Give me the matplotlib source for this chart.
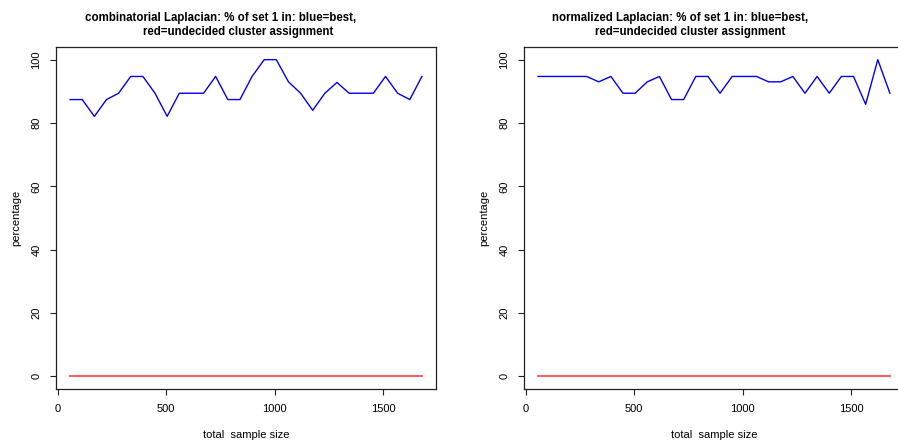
import matplotlib
matplotlib.use('Agg')
import matplotlib.pyplot as plt
import numpy as np

plt.rcParams['font.family'] = ['Liberation Sans', 'DejaVu Sans']

# sample sizes 56, 112, ..., 1680
sample_size = np.arange(56, 1681, 56)

# percentage of set 1 in the best cluster
comb_best = [87.4, 87.4, 82.1, 87.4, 89.4, 94.7, 94.7, 89.4, 82.1, 89.4,
             89.4, 89.4, 94.7, 87.4, 87.4, 94.7, 100.0, 100.0, 93.0, 89.4,
             84.0, 89.4, 92.8, 89.4, 89.4, 89.4, 94.7, 89.4, 87.4, 94.7]
norm_best = [94.7, 94.7, 94.7, 94.7, 94.7, 93.0, 94.7, 89.4, 89.4, 93.0,
             94.7, 87.4, 87.4, 94.7, 94.7, 89.4, 94.7, 94.7, 94.7, 93.0,
             93.0, 94.7, 89.4, 94.7, 89.4, 94.7, 94.7, 85.9, 100.0, 89.4]
# percentage with undecided assignment
comb_undecided = [0] * 30
norm_undecided = [0] * 30

W, H = 898, 446
fig = plt.figure(figsize=(W / 100, H / 100), dpi=100)
fig.patch.set_facecolor('white')


def px(x0, y0, x1, y1):
    return [x0 / W, 1 - y1 / H, (x1 - x0) / W, (y1 - y0) / H]


ax1 = fig.add_axes(px(56, 47, 436, 389))
ax2 = fig.add_axes(px(524, 47, 904, 389))

panels = [
    (ax1, comb_best, comb_undecided, 'combinatorial Laplacian: % of set 1 in: blue=best,', (221, 238)),
    (ax2, norm_best, norm_undecided, 'normalized Laplacian: % of set 1 in: blue=best,', (680, 690)),
]

for ax, best, undec, line1, (c1, c2) in panels:
    ax.plot(sample_size, best, color='#0000ff', lw=1.0)
    ax.plot(sample_size, undec, color='#ff4d4d', lw=1.3)
    ax.set_xlim(-9, 1745)
    ax.set_ylim(-4, 104)
    ax.set_xticks([0, 500, 1000, 1500])
    ax.set_yticks([0, 20, 40, 60, 80, 100])
    ax.set_yticklabels(['0', '20', '40', '60', '80', '100'], rotation=90, va='center')
    ax.tick_params(direction='out', length=4.5, width=0.8, labelsize=8, pad=6, color='#222222')
    for s in ax.spines.values():
        s.set_linewidth(0.9)
        s.set_color('#222222')
    ax.text(0.5, -0.135, 'total  sample size', transform=ax.transAxes,
            ha='center', va='center', fontsize=8)
    ax.text(-0.105, 0.5, 'percentage', transform=ax.transAxes, rotation=90,
            ha='center', va='center', fontsize=8)
    fig.text(c1 / W, 1 - 18.5 / H, line1, ha='center', va='center',
             fontsize=8.3, fontweight='bold')
    fig.text(c2 / W, 1 - 32.5 / H, 'red=undecided cluster assignment', ha='center',
             va='center', fontsize=8.3, fontweight='bold')

fig.savefig('out.png', dpi=100)
